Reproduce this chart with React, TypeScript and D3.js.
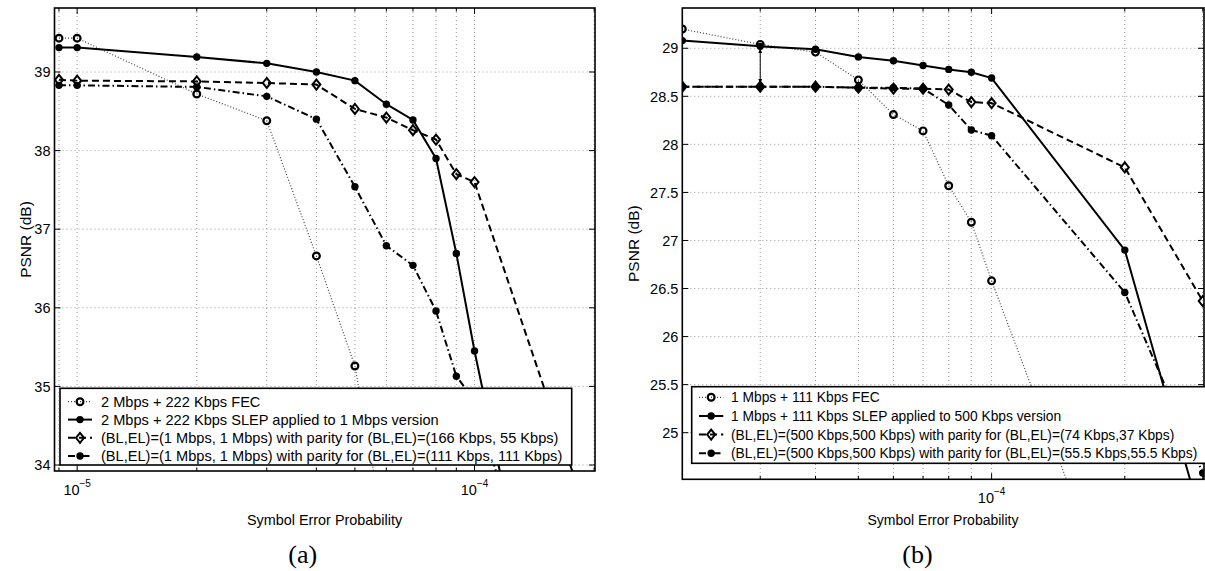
import React from 'react';
import * as d3 from 'd3';

// ---------- Panel (a) data ----------
const fecA_x = [9e-6, 1e-5, 2e-5, 3e-5, 4e-5, 5e-5, 6e-5];
const fecA_y = [39.43, 39.43, 38.72, 38.38, 36.66, 35.26, 33.0];
const slepA_x = [9e-6, 1e-5, 2e-5, 3e-5, 4e-5, 5e-5, 6e-5, 7e-5, 8e-5, 9e-5, 1e-4, 1.2e-4];
const slepA_y = [39.31, 39.31, 39.19, 39.11, 39.0, 38.89, 38.59, 38.39, 37.9, 36.69, 35.45, 33.55];
const uepA1_x = [9e-6, 1e-5, 2e-5, 3e-5, 4e-5, 5e-5, 6e-5, 7e-5, 8e-5, 9e-5, 1e-4, 2e-4];
const uepA1_y = [38.9, 38.89, 38.88, 38.86, 38.84, 38.53, 38.42, 38.26, 38.14, 37.7, 37.6, 33.1];
const uepA2_x = [9e-6, 1e-5, 2e-5, 3e-5, 4e-5, 5e-5, 6e-5, 7e-5, 8e-5, 9e-5, 1e-4, 1.2e-4];
const uepA2_y = [38.83, 38.83, 38.81, 38.69, 38.4, 37.54, 36.79, 36.54, 35.96, 35.13, 34.82, 33.5];
const yTicksA = [34, 35, 36, 37, 38, 39];
const legendA = [
  '2 Mbps + 222 Kbps FEC',
  '2 Mbps + 222 Kbps SLEP applied to 1 Mbps version',
  '(BL,EL)=(1 Mbps, 1 Mbps) with parity for (BL,EL)=(166 Kbps, 55 Kbps)',
  '(BL,EL)=(1 Mbps, 1 Mbps) with parity for (BL,EL)=(111 Kbps, 111 Kbps)',
];

// ---------- Panel (b) data ----------
const xB = [2e-5, 3e-5, 4e-5, 5e-5, 6e-5, 7e-5, 8e-5, 9e-5, 1e-4, 2e-4, 3e-4];
const fecB_x = [2e-5, 3e-5, 4e-5, 5e-5, 6e-5, 7e-5, 8e-5, 9e-5, 1e-4, 2e-4];
const fecB_y = [29.2, 29.04, 28.96, 28.67, 28.31, 28.14, 27.57, 27.19, 26.58, 22.9];
const slepB_y = [29.08, 29.02, 28.99, 28.91, 28.87, 28.82, 28.78, 28.75, 28.69, 26.9, 24.05];
const uepB1_y = [28.6, 28.6, 28.6, 28.59, 28.58, 28.58, 28.57, 28.44, 28.43, 27.76, 26.37];
const uepB2_y = [28.6, 28.6, 28.6, 28.59, 28.59, 28.58, 28.41, 28.15, 28.09, 26.46, 24.58];
const yTicksB = [25, 25.5, 26, 26.5, 27, 27.5, 28, 28.5, 29];
const arrowB = { x: 3e-5, from: 29.0, to: 28.63 };
const legendB = [
  '1 Mbps + 111 Kbps FEC',
  '1 Mbps + 111 Kbps SLEP applied to 500 Kbps version',
  '(BL,EL)=(500 Kbps,500 Kbps) with parity for (BL,EL)=(74 Kbps,37 Kbps)',
  '(BL,EL)=(500 Kbps,500 Kbps) with parity for (BL,EL)=(55.5 Kbps,55.5 Kbps)',
];

const xLabel = 'Symbol Error Probability';
const yLabel = 'PSNR (dB)';

type Style = 'dotted' | 'solid' | 'dashed' | 'dashdot';
type Mk = 'circle' | 'dot' | 'diamond';
type Series = { xs: number[]; ys: number[]; style: Style; marker: Mk };

const STY: Record<Style, { w: number; dash?: string; color: string }> = {
  dotted: { w: 1.2, dash: '1,2', color: '#444' },
  solid: { w: 2, color: '#000' },
  dashed: { w: 2, dash: '7,4', color: '#000' },
  dashdot: { w: 2, dash: '7,3,1.5,3', color: '#000' },
};

const FONT = 'Liberation Sans, Arial, Helvetica, sans-serif';

function Marker({ x, y, m }: { x: number; y: number; m: Mk }) {
  if (m === 'circle')
    return <circle cx={x} cy={y} r={3.4} fill="none" stroke="#000" strokeWidth={2.2} />;
  if (m === 'dot') return <circle cx={x} cy={y} r={3.7} fill="#000" />;
  return (
    <path
      d={`M${x},${y - 5} L${x + 4},${y} L${x},${y + 5} L${x - 4},${y} Z`}
      fill="none"
      stroke="#000"
      strokeWidth={2}
    />
  );
}

type PanelCfg = {
  id: string;
  box: { l: number; t: number; r: number; b: number };
  xDom: [number, number];
  yDom: [number, number];
  yTicks: number[];
  majorX: number[];
  series: Series[];
  legend: string[];
  legSize: number;
  leg: { x0: number; y0: number; x1: number; y1: number; rows: number[]; s0: number; s1: number; tx: number };
  yLabelX: number;
  xLabelX: number;
  xLabelSize: number;
  capX: number;
  caption: string;
  arrow?: { x: number; from: number; to: number };
};

function Panel({ c }: { c: PanelCfg }) {
  const { l, t, r, b } = c.box;
  const x = d3.scaleLog().domain(c.xDom).range([l, r]);
  const y = d3.scaleLinear().domain(c.yDom).range([b, t]);
  const minor: number[] = [];
  const e0 = Math.floor(Math.log10(c.xDom[0]));
  const e1 = Math.ceil(Math.log10(c.xDom[1]));
  for (let e = e0; e <= e1; e++)
    for (let m = 1; m <= 9; m++) {
      const v = m * Math.pow(10, e);
      if (v >= c.xDom[0] * 1.001 && v <= c.xDom[1] * 0.999) minor.push(v);
    }
  const line = d3
    .line<[number, number]>()
    .x((d) => x(d[0]))
    .y((d) => y(d[1]));
  const grid = '#808080';
  const cy = (t + b) / 2;
  return (
    <g>
      <defs>
        <clipPath id={`clip-${c.id}`}>
          <rect x={l} y={t} width={r - l} height={b - t} />
        </clipPath>
        <marker id={`ah-${c.id}`} viewBox="0 0 10 10" refX="10" refY="5" markerWidth="5" markerHeight="7" orient="auto-start-reverse" markerUnits="userSpaceOnUse">
          <path d="M0,1 L10,5 L0,9 Z" fill="#000" />
        </marker>
      </defs>
      {minor.map((v) => (
        <line key={'gx' + v} x1={x(v)} x2={x(v)} y1={t} y2={b} stroke={grid} strokeWidth={0.8} strokeDasharray="1,3" />
      ))}
      {c.yTicks.map((v) => (
        <line key={'gy' + v} x1={l} x2={r} y1={y(v)} y2={y(v)} stroke={grid} strokeWidth={0.8} strokeDasharray="1,3" />
      ))}
      <g clipPath={`url(#clip-${c.id})`}>
        {c.series.map((s, i) => {
          const st = STY[s.style];
          const pts = s.xs.map((xv, j) => [xv, s.ys[j]] as [number, number]);
          return (
            <path key={'s' + i} d={line(pts) || ''} fill="none" stroke={st.color} strokeWidth={st.w} strokeDasharray={st.dash} />
          );
        })}
        {c.series.map((s, i) =>
          s.xs.map((xv, j) => <Marker key={`m${i}-${j}`} x={x(xv)} y={y(s.ys[j])} m={s.marker} />)
        )}
        {c.arrow && (
          <line
            x1={x(c.arrow.x)}
            x2={x(c.arrow.x)}
            y1={y(c.arrow.from)}
            y2={y(c.arrow.to)}
            stroke="#000"
            strokeWidth={1}
            markerStart={`url(#ah-${c.id})`}
            markerEnd={`url(#ah-${c.id})`}
          />
        )}
      </g>
      <rect x={l} y={t} width={r - l} height={b - t} fill="none" stroke="#000" strokeWidth={1.6} />
      {minor.map((v) => {
        const major = c.majorX.some((mv) => Math.abs(mv - v) / mv < 1e-6);
        const len = major ? 6 : 3.5;
        return (
          <g key={'tx' + v}>
            <line x1={x(v)} x2={x(v)} y1={b} y2={b - len} stroke="#000" strokeWidth={1} />
            <line x1={x(v)} x2={x(v)} y1={t} y2={t + len} stroke="#000" strokeWidth={1} />
          </g>
        );
      })}
      {c.yTicks.map((v) => (
        <g key={'ty' + v}>
          <line x1={l} x2={l + 6} y1={y(v)} y2={y(v)} stroke="#000" strokeWidth={1} />
          <line x1={r} x2={r - 6} y1={y(v)} y2={y(v)} stroke="#000" strokeWidth={1} />
          <text x={l - 4} y={y(v)} dy="0.36em" textAnchor="end" fontSize={14.5} fontFamily={FONT}>
            {String(v)}
          </text>
        </g>
      ))}
      {c.majorX.map((v) => (
        <text key={'xl' + v} x={x(v)} y={b + 24} textAnchor="middle" fontSize={14.5} fontFamily={FONT}>
          10
          <tspan dy={-8} fontSize={10}>
            {String(Math.round(Math.log10(v))).replace('-', '\u2212')}
          </tspan>
        </text>
      ))}
      <text x={c.xLabelX} y={525} textAnchor="middle" fontSize={c.xLabelSize} fontFamily={FONT}>
        {xLabel}
      </text>
      <text transform={`translate(${c.yLabelX},${cy}) rotate(-90)`} textAnchor="middle" fontSize={15.5} fontFamily={FONT}>
        {yLabel}
      </text>
      <text x={c.capX} y={563} textAnchor="middle" fontSize={26} fontFamily="Liberation Serif, Times New Roman, serif">
        {c.caption}
      </text>
      <rect x={c.leg.x0} y={c.leg.y0} width={c.leg.x1 - c.leg.x0} height={c.leg.y1 - c.leg.y0} fill="#fff" stroke="#000" strokeWidth={1.6} />
      {c.series.map((s, i) => {
        const st = STY[s.style];
        const ry = c.leg.rows[i];
        return (
          <g key={'lg' + i}>
            <line x1={c.leg.s0} x2={c.leg.s1} y1={ry} y2={ry} stroke={st.color} strokeWidth={st.w} strokeDasharray={st.dash} />
            <Marker x={(c.leg.s0 + c.leg.s1) / 2} y={ry} m={s.marker} />
            <text x={c.leg.tx} y={ry} dy="0.36em" fontSize={c.legSize} fontFamily={FONT}>
              {c.legend[i]}
            </text>
          </g>
        );
      })}
    </g>
  );
}

export default function App() {
  const panelA: PanelCfg = {
    id: 'a',
    box: { l: 54.5, t: 8, r: 595, b: 471 },
    xDom: [8.77e-6, 2.01e-4],
    yDom: [33.924, 39.814],
    yTicks: yTicksA,
    majorX: [1e-5, 1e-4],
    series: [
      { xs: fecA_x, ys: fecA_y, style: 'dotted', marker: 'circle' },
      { xs: slepA_x, ys: slepA_y, style: 'solid', marker: 'dot' },
      { xs: uepA1_x, ys: uepA1_y, style: 'dashed', marker: 'diamond' },
      { xs: uepA2_x, ys: uepA2_y, style: 'dashdot', marker: 'dot' },
    ],
    legend: legendA,
    legSize: 14.6,
    leg: { x0: 60, y0: 388.3, x1: 571.7, y1: 465, rows: [401.7, 419.6, 437.8, 456], s0: 68, s1: 92, tx: 101 },
    yLabelX: 30.5,
    xLabelX: 324.5,
    xLabelSize: 14.4,
    capX: 302.8,
    caption: '(a)',
  };
  const panelB: PanelCfg = {
    id: 'b',
    box: { l: 682.3, t: 8, r: 1204, b: 479.3 },
    xDom: [2e-5, 3.02e-4],
    yDom: [24.515, 29.419],
    yTicks: yTicksB,
    majorX: [1e-4],
    series: [
      { xs: fecB_x, ys: fecB_y, style: 'dotted', marker: 'circle' },
      { xs: xB, ys: slepB_y, style: 'solid', marker: 'dot' },
      { xs: xB, ys: uepB1_y, style: 'dashed', marker: 'diamond' },
      { xs: xB, ys: uepB2_y, style: 'dashdot', marker: 'dot' },
    ],
    legend: legendB,
    legSize: 13.8,
    leg: { x0: 691.7, y0: 386.7, x1: 1210, y1: 463.3, rows: [397.3, 416, 434.6, 453.3], s0: 699, s1: 723.3, tx: 731 },
    yLabelX: 639,
    xLabelX: 943,
    xLabelSize: 14,
    capX: 917.5,
    caption: '(b)',
    arrow: arrowB,
  };
  return (
    <svg
      width={1205}
      height={571}
      style={{ position: 'absolute', left: 0, top: 0, background: '#fff' }}
      xmlns="http://www.w3.org/2000/svg"
    >
      <rect x={0} y={0} width={1205} height={571} fill="#fff" />
      <Panel c={panelA} />
      <Panel c={panelB} />
    </svg>
  );
}
